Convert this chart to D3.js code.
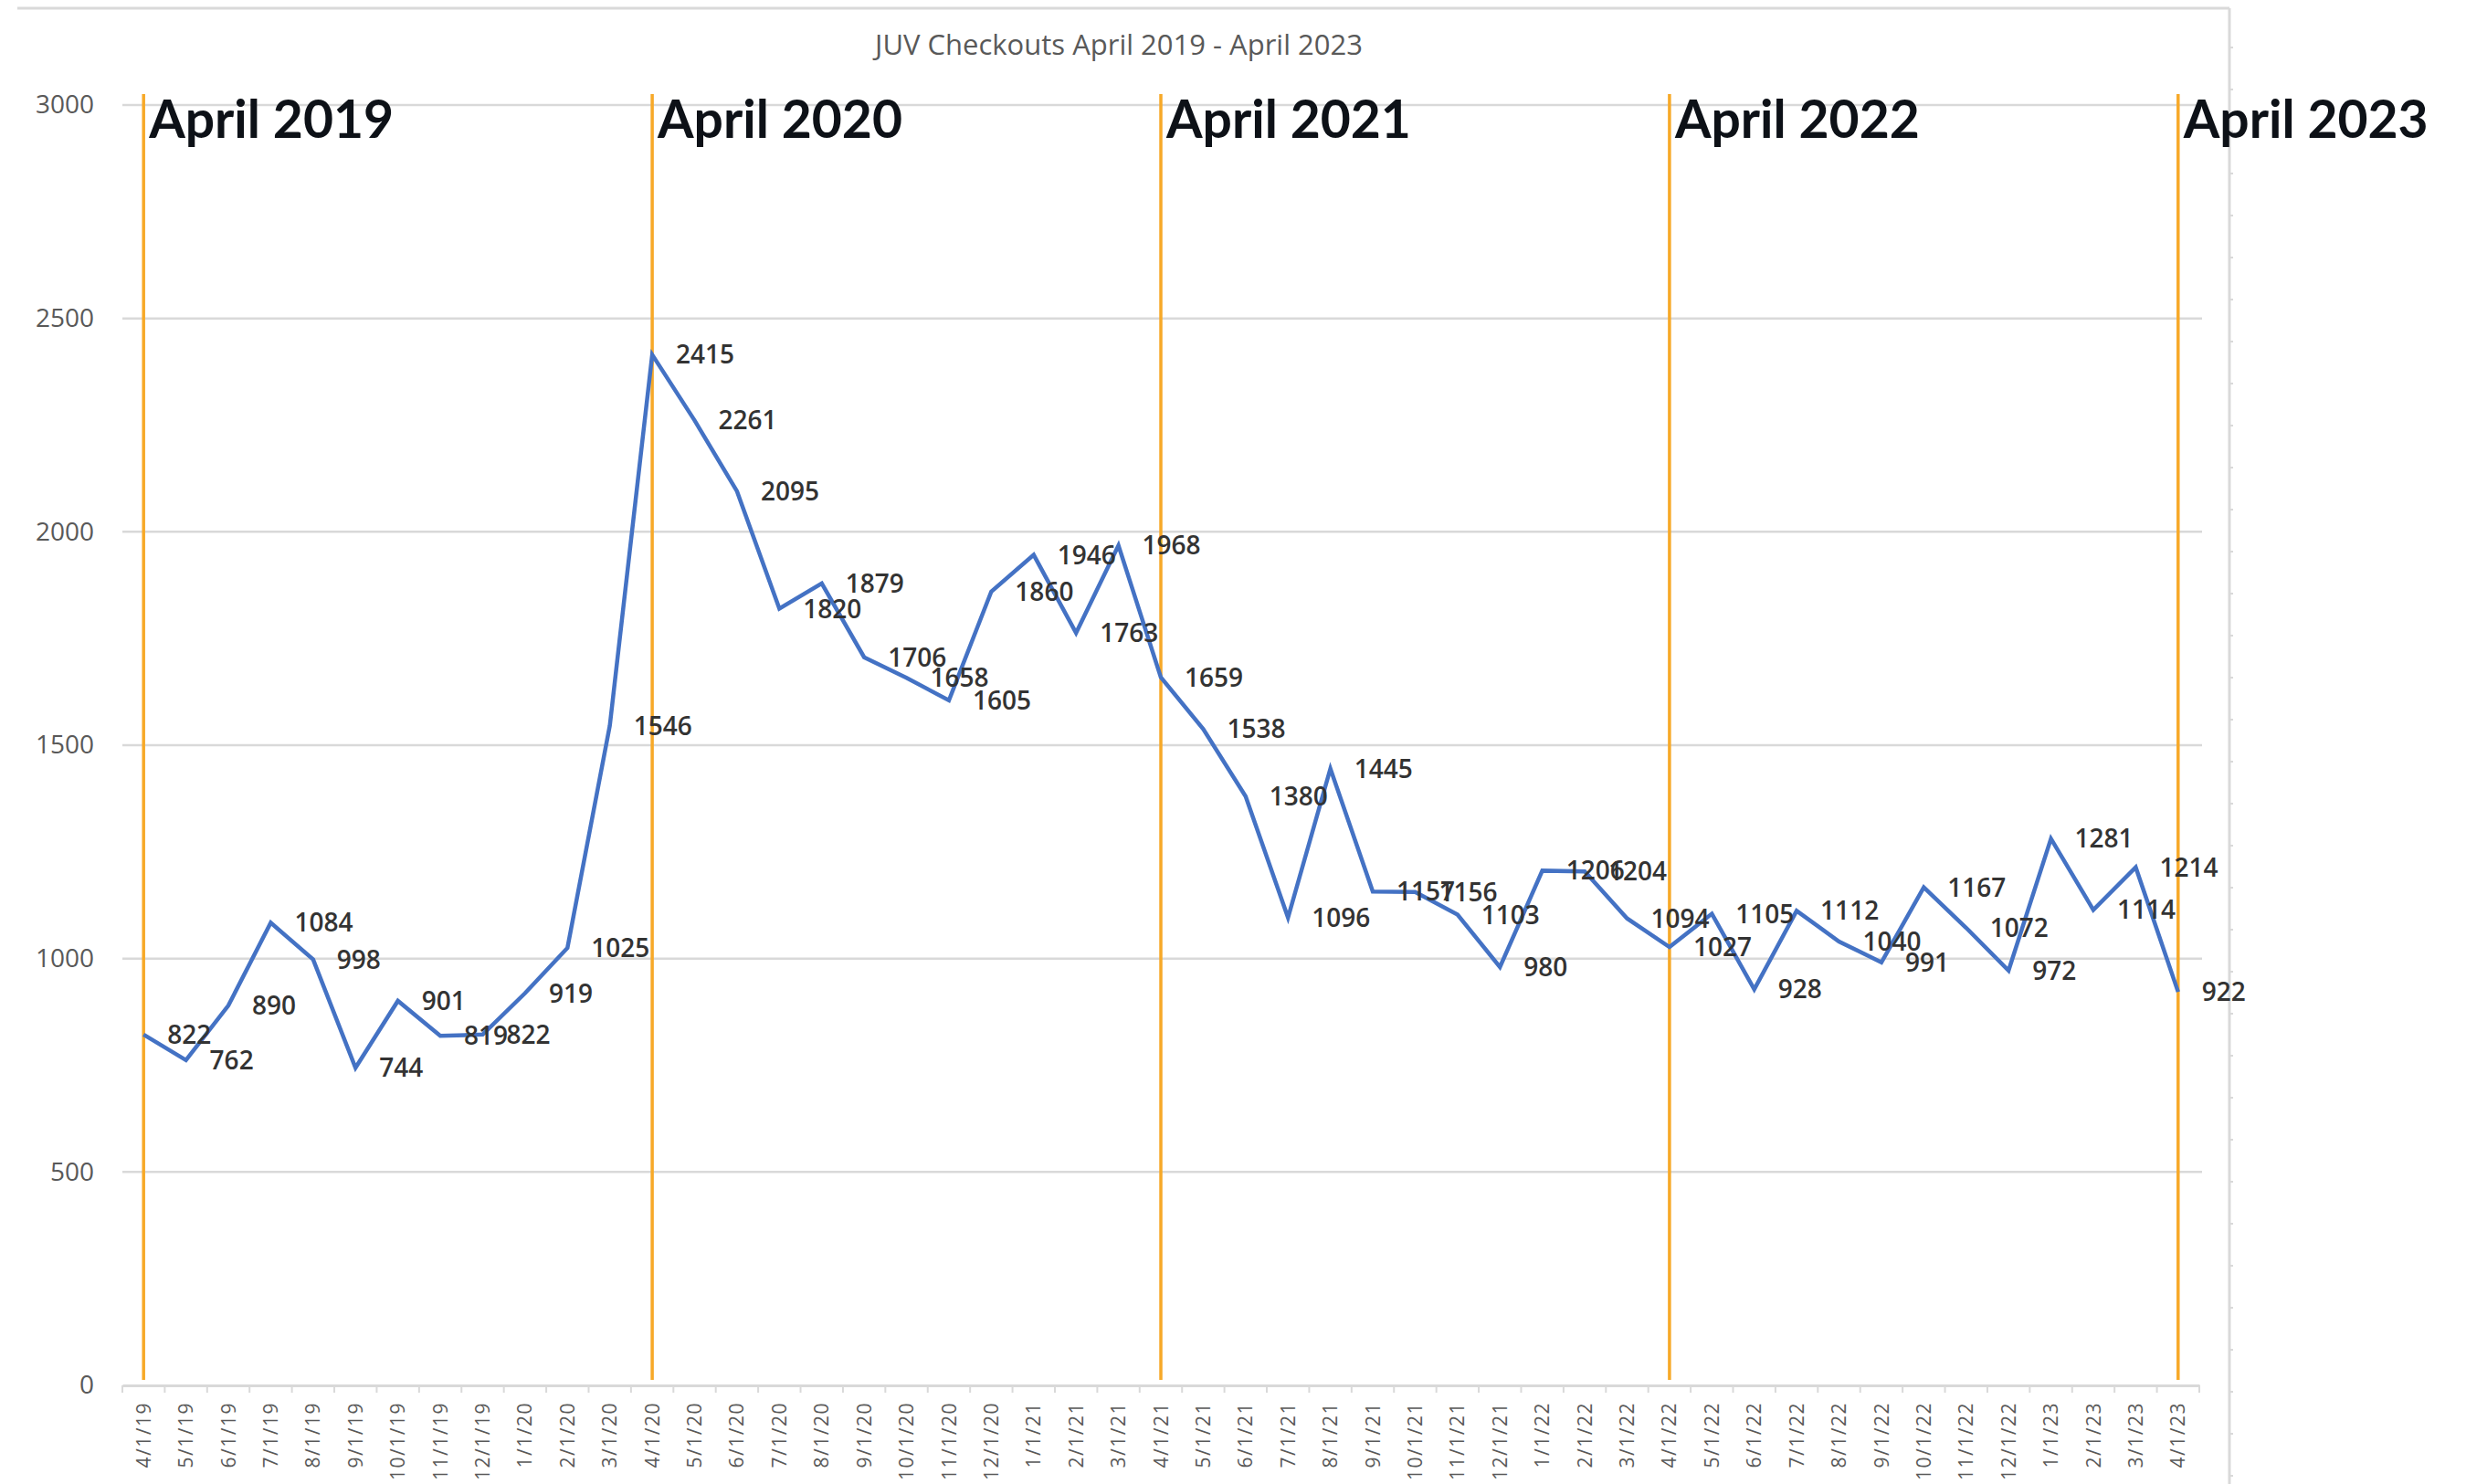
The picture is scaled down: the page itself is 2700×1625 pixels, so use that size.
<!DOCTYPE html>
<html>
<head>
<meta charset="utf-8">
<script src="https://cdn.jsdelivr.net/npm/d3@7"></script>
<style>
  html, body { margin: 0; padding: 0; background: #fff; }
  svg { display: block; }
</style>
</head>
<body>
<div id="chart"></div>
<script>
// monthly juvenile checkouts, 4/1/19 .. 4/1/23
const months = [
    '4/1/19', '5/1/19', '6/1/19', '7/1/19', '8/1/19', '9/1/19', '10/1/19', '11/1/19', '12/1/19',
    '1/1/20', '2/1/20', '3/1/20', '4/1/20', '5/1/20', '6/1/20', '7/1/20', '8/1/20', '9/1/20',
    '10/1/20', '11/1/20', '12/1/20', '1/1/21', '2/1/21', '3/1/21', '4/1/21', '5/1/21', '6/1/21',
    '7/1/21', '8/1/21', '9/1/21', '10/1/21', '11/1/21', '12/1/21', '1/1/22', '2/1/22', '3/1/22',
    '4/1/22', '5/1/22', '6/1/22', '7/1/22', '8/1/22', '9/1/22', '10/1/22', '11/1/22', '12/1/22',
    '1/1/23', '2/1/23', '3/1/23', '4/1/23'
];
const checkouts = [
    822, 762, 890, 1084, 998, 744, 901, 819, 822,
    919, 1025, 1546, 2415, 2261, 2095, 1820, 1879, 1706,
    1658, 1605, 1860, 1946, 1763, 1968, 1659, 1538, 1380,
    1096, 1445, 1157, 1156, 1103, 980, 1206, 1204, 1094,
    1027, 1105, 928, 1112, 1040, 991, 1167, 1072, 972,
    1281, 1114, 1214, 922
];
const yTicks = [0, 500, 1000, 1500, 2000, 2500, 3000];
// vertical markers: month category + label
const markerMonths = ['4/1/19', '4/1/20', '4/1/21', '4/1/22', '4/1/23'];
const markerLabels = ['April 2019', 'April 2020', 'April 2021', 'April 2022', 'April 2023'];
const title = 'JUV Checkouts April 2019 - April 2023';

const W = 2700, H = 1625;
const plot = { left: 134, right: 2408, top: 115, bottom: 1517 };

const svg = d3.select('#chart')
    .append('svg')
    .attr('width', W)
    .attr('height', H);

const x = d3.scaleBand()
    .domain(months)
    .range([plot.left, plot.right])
    .padding(0);
const cx = d => x(d) + x.bandwidth() / 2;

const y = d3.scaleLinear()
    .domain([0, 3000])
    .range([plot.bottom, plot.top]);

// outer frame (top + right edge with little ruler ticks)
const frame = svg.append('g').attr('stroke', '#d9d9d9').attr('stroke-width', 3);
frame.append('line').attr('x1', 19).attr('x2', 2441).attr('y1', 9).attr('y2', 9);
frame.append('line').attr('x1', 2441).attr('x2', 2441).attr('y1', 9).attr('y2', H);
frame.selectAll('.rule')
    .data(d3.range(52, H, 46))
    .enter().append('line')
    .attr('x1', 2441).attr('x2', 2445)
    .attr('y1', d => d).attr('y2', d => d)
    .attr('stroke-width', 2);

// title
svg.append('text')
    .attr('x', 1225)
    .attr('y', 60)
    .attr('text-anchor', 'middle')
    .attr('font-family', '"Open Sans", sans-serif')
    .attr('font-size', 31)
    .attr('fill', '#595959')
    .text(title);

// gridlines
svg.append('g')
    .selectAll('line')
    .data(yTicks.filter(d => d > 0))
    .enter().append('line')
    .attr('x1', plot.left).attr('x2', plot.right + 3)
    .attr('y1', d => y(d)).attr('y2', d => y(d))
    .attr('stroke', '#d9d9d9')
    .attr('stroke-width', 2.5);

// y axis labels
const yAxis = svg.append('g')
    .attr('transform', `translate(${plot.left}, 0)`)
    .call(d3.axisLeft(y).tickValues(yTicks).tickFormat(d3.format('d')).tickSize(0).tickPadding(31));
yAxis.select('.domain').remove();
yAxis.selectAll('text')
    .attr('font-family', '"Open Sans", sans-serif')
    .attr('font-size', 28)
    .attr('fill', '#595959');

// x axis
const xAxis = svg.append('g')
    .attr('transform', `translate(0, ${plot.bottom})`)
    .call(d3.axisBottom(x).tickSize(0));
xAxis.select('.domain')
    .attr('stroke', '#d9d9d9')
    .attr('stroke-width', 3);
xAxis.selectAll('text')
    .attr('transform', 'rotate(-90)')
    .attr('text-anchor', 'end')
    .attr('x', -18)
    .attr('y', 0)
    .attr('dy', '0.36em')
    .attr('font-family', '"Open Sans", sans-serif')
    .attr('font-size', 21)
    .attr('letter-spacing', 1.5)
    .attr('fill', '#595959');
// tick marks sit between categories
xAxis.selectAll('.between')
    .data(months.concat(['end']))
    .enter().append('line')
    .attr('x1', (d, i) => plot.left + i * x.bandwidth())
    .attr('x2', (d, i) => plot.left + i * x.bandwidth())
    .attr('y1', 0).attr('y2', 8)
    .attr('stroke', '#d9d9d9')
    .attr('stroke-width', 2);

// orange year markers
const markers = svg.append('g');
markers.selectAll('line')
    .data(markerMonths)
    .enter().append('line')
    .attr('x1', d => cx(d)).attr('x2', d => cx(d))
    .attr('y1', 103).attr('y2', plot.bottom - 6)
    .attr('stroke', '#f7a928')
    .attr('stroke-width', 3.5);

// series line
const line = d3.line()
    .x((d, i) => cx(months[i]))
    .y(d => y(d));

svg.append('path')
    .datum(checkouts)
    .attr('fill', 'none')
    .attr('stroke', '#4472c4')
    .attr('stroke-width', 4.5)
    .attr('stroke-linejoin', 'miter')
    .attr('d', line);

// data labels to the right of each point
svg.append('g')
    .selectAll('text')
    .data(checkouts)
    .enter().append('text')
    .attr('x', (d, i) => cx(months[i]) + 26)
    .attr('y', d => y(d))
    .attr('dy', '0.36em')
    .attr('font-family', '"Open Sans", sans-serif')
    .attr('font-weight', 600)
    .attr('font-size', 28)
    .attr('fill', '#333333')
    .text(d => d);

// big year labels
markers.selectAll('text')
    .data(markerMonths)
    .enter().append('text')
    .attr('x', d => cx(d) + 6)
    .attr('y', 151)
    .attr('font-family', 'Lato, sans-serif')
    .attr('font-weight', 700)
    .attr('font-size', 57)
    .attr('fill', '#0d1117')
    .text((d, i) => markerLabels[i]);
</script>
</body>
</html>
